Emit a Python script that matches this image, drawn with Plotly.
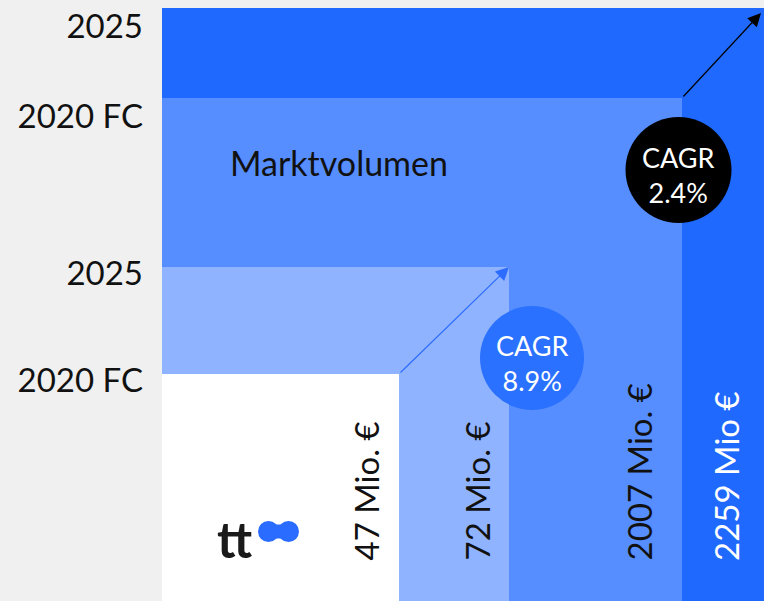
import plotly.graph_objects as go

# ---- data ----
years = ["2020 FC", "2025", "2020 FC", "2025"]
segments = ["Nische", "Nische", "Marktvolumen", "Marktvolumen"]
values_mio = [47, 72, 2007, 2259]
value_labels = ["47 Mio. €", "72 Mio. €", "2007 Mio. €", "2259 Mio €"]
cagr_labels = ["CAGR<br>8.9%", "CAGR<br>2.4%"]

# ---- illustrative layout (sizes of nested boxes, in axis units) ----
box_w = [237, 347, 520, 610]
box_h = [237, 344, 513, 603]
box_colors = ["#ffffff", "#8fb3ff", "#568eff", "#1f69ff"]
label_colors = ["#111111", "#111111", "#111111", "#ffffff"]
label_x = [203, 314, 476, 564]
tick_offset = [6, 6, 18, 18]

FONT = "Lato"

fig = go.Figure()

# nested boxes, largest first
for i in reversed(range(len(values_mio))):
    w, h = box_w[i], box_h[i]
    fig.add_trace(go.Scatter(
        x=[0, w, w, 0, 0], y=[0, 0, h, h, 0],
        mode="lines", fill="toself", fillcolor=box_colors[i],
        line=dict(width=0), hoverinfo="text",
        text=f"{segments[i]} {years[i]}: {values_mio[i]} Mio. €",
        showlegend=False,
    ))

# value labels (rotated)
for i in range(len(values_mio)):
    fig.add_annotation(
        x=label_x[i], y=48, xref="x", yref="y",
        text=value_labels[i], textangle=-90, showarrow=False,
        xanchor="center", yanchor="bottom",
        font=dict(family=FONT, size=33, color=label_colors[i]),
    )

# arrows (growth) from corner to corner
fig.add_annotation(
    x=box_w[1], y=box_h[1], ax=box_w[0], ay=box_h[0],
    xref="x", yref="y", axref="x", ayref="y", text="",
    showarrow=True, arrowhead=2, arrowsize=2.2, arrowwidth=1.2,
    arrowcolor="#2c6cff",
)
fig.add_annotation(
    x=599, y=598, ax=box_w[2], ay=box_h[2],
    xref="x", yref="y", axref="x", ayref="y", text="",
    showarrow=True, arrowhead=2, arrowsize=2.2, arrowwidth=1.2,
    arrowcolor="#000000",
)

# CAGR circles
circles = [(370, 253, 52, "#2a71ff"), (516.5, 441, 53, "#000000")]
for (cx, cy, r, col), lab in zip(circles, cagr_labels):
    fig.add_shape(type="circle", xref="x", yref="y",
                  x0=cx - r, x1=cx + r, y0=cy - r, y1=cy + r,
                  fillcolor=col, line=dict(width=0), layer="above")
    fig.add_annotation(x=cx, y=cy - 5, xref="x", yref="y", text=lab,
                       showarrow=False,
                       font=dict(family=FONT, size=27, color="white"))

# segment title
fig.add_annotation(x=177, y=449, xref="x", yref="y", text="Marktvolumen",
                   showarrow=False,
                   font=dict(family=FONT, size=34, color="#111111"))

# logo "tt" + blob
fig.add_annotation(x=72, y=72, xref="x", yref="y", text="<b>tt</b>",
                   showarrow=False,
                   font=dict(family=FONT, size=50, color="#1a1a1a"))
for cx in (106.5, 126.5):
    fig.add_shape(type="circle", xref="x", yref="y",
                  x0=cx - 10.5, x1=cx + 10.5, y0=69, y1=90,
                  fillcolor="#2a6cff", line=dict(width=0), layer="above")
fig.add_shape(type="rect", xref="x", yref="y", x0=106, x1=127, y0=72.5, y1=86.5,
              fillcolor="#2a6cff", line=dict(width=0), layer="above")

fig.update_layout(
    width=764, height=601,
    margin=dict(l=162, r=0, t=8, b=0),
    paper_bgcolor="#f0f0f0", plot_bgcolor="#ffffff",
    font=dict(family=FONT, color="#111111"),
    xaxis=dict(range=[0, 602], visible=False, fixedrange=True),
    yaxis=dict(range=[10, 603], showgrid=False, zeroline=False,
               tickvals=[h - o for h, o in zip(box_h, tick_offset)],
               ticktext=years, ticks="", ticklabelstandoff=18,
               tickfont=dict(family=FONT, size=33, color="#111111"),
               fixedrange=True),
    showlegend=False,
)

fig.write_html(
    "out.html",
    config={"displayModeBar": False},
    post_script="document.body.style.margin='0';"
                "document.body.style.overflow='hidden';"
                "document.body.style.background='#f0f0f0';",
)
